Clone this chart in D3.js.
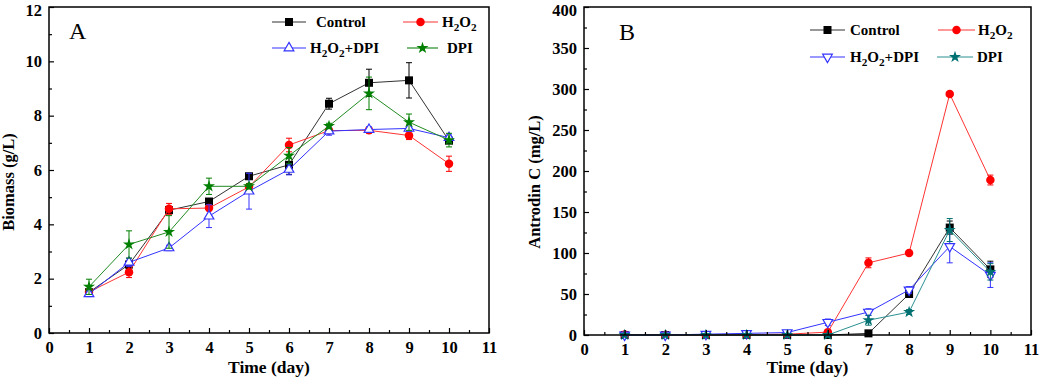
<!DOCTYPE html>
<html><head><meta charset="utf-8">
<script src="https://cdn.jsdelivr.net/npm/d3@7"></script>
<style>body{margin:0;background:#fff}svg{display:block}text{font-family:"Liberation Serif","Times New Roman",serif}</style>
</head><body>
<svg id="c" width="1040" height="382"></svg>
<script>
const days = [1,2,3,4,5,6,7,8,9,10];
const seriesNames = ["Control","H2O2","H2O2+DPI","DPI"];
// Panel A: Biomass (g/L)
const bioControl = [1.50,2.52,4.52,4.84,5.77,6.19,8.44,9.21,9.30,7.08];
const bioControlErr = [0.10,0.15,0.10,0.10,0.10,0.35,0.20,0.50,0.65,0.10];
const bioH2O2 = [1.51,2.24,4.57,4.60,5.38,6.92,7.45,7.46,7.27,6.23];
const bioH2O2Err = [0.10,0.20,0.20,0.10,0.10,0.25,0.10,0.10,0.15,0.28];
const bioH2O2DPI = [1.44,2.60,3.13,4.30,5.22,6.02,7.43,7.49,7.53,7.19];
const bioH2O2DPIErr = [0.10,0.15,0.10,0.42,0.66,0.20,0.15,0.10,0.10,0.10];
const bioDPI = [1.70,3.26,3.72,5.40,5.40,6.53,7.62,8.82,7.76,7.10];
const bioDPIErr = [0.28,0.50,0.60,0.30,0.10,0.30,0.10,0.60,0.30,0.25];
// Panel B: Antrodin C (mg/L)
const antControl = [0,0,0,0,0,0,2,50,131,80];
const antControlErr = [0,0,0,0,0,0,1,3,8,10];
const antH2O2 = [0.5,0,0,0.5,1,3.5,88,100,294,189];
const antH2O2Err = [0,0,0,0,0,1,6,2,3,6];
const antH2O2DPI = [0,0,1,2,3,15.5,28,55,108,73];
const antH2O2DPIErr = [0,0,1,1,1,4,4,4,20,15];
const antDPI = [0,0,0,0,0,0,18,28,128,77];
const antDPIErr = [0,0,0,0,0,0,6,3,14,10];
const xTicks = [0,1,2,3,4,5,6,7,8,9,10,11];
const yTicksA = [0,2,4,6,8,10,12];
const yTicksB = [0,50,100,150,200,250,300,350,400];

const svg = d3.select("#c");

function sub(sel, parts, size){
  let last = false;
  parts.forEach(([t,s])=>{
    const ts = sel.append("tspan").text(t);
    if(s){ ts.attr("dy",4).attr("font-size",size*0.75); }
    else { ts.attr("dy", last ? -4 : 0); }
    last = !!s;
  });
}
function labelParts(name){
  if(name==="H2O2") return [["H",0],["2",1],["O",0],["2",1]];
  if(name==="H2O2+DPI") return [["H",0],["2",1],["O",0],["2",1],["+DPI",0]];
  return [[name,0]];
}

function marker(g, type, color, size){
  if(type==="square"){
    g.append("rect").attr("x",-size/2).attr("y",-size/2).attr("width",size).attr("height",size).attr("fill",color);
  } else if(type==="circle"){
    g.append("circle").attr("r",size/2).attr("fill",color);
  } else if(type==="tri"){
    g.append("path").attr("d",d3.symbol(d3.symbolTriangle, size*size*0.5)()).attr("fill","#fff").attr("stroke",color).attr("stroke-width",1.2);
  } else if(type==="triDown"){
    g.append("path").attr("d",d3.symbol(d3.symbolTriangle, size*size*0.5)()).attr("transform","rotate(180)").attr("fill","#fff").attr("stroke",color).attr("stroke-width",1.2);
  } else if(type==="star"){
    g.append("path").attr("d",d3.symbol(d3.symbolStar, size*size*0.45)()).attr("fill",color);
  }
}

function panel(cfg){
  const x = d3.scaleLinear().domain([0,11]).range(cfg.xr);
  const y = d3.scaleLinear().domain(cfg.yd).range(cfg.yr);
  const g = svg.append("g");
  cfg.series.forEach(s=>{
    const pts = days.map((d,i)=>({x:d,y:s.vals[i],e:s.err[i]}));
    g.append("path").datum(pts)
      .attr("d",d3.line().x(d=>x(d.x)).y(d=>y(d.y)))
      .attr("fill","none").attr("stroke",s.line).attr("stroke-width",1);
    const eb = g.append("g");
    pts.filter(p=>p.e>0).forEach(p=>{
      const cx=x(p.x), y1=y(p.y+p.e), y2=y(Math.max(0,p.y-p.e));
      eb.append("path").attr("d",`M${cx},${y1}V${y2}M${cx-3},${y1}H${cx+3}M${cx-3},${y2}H${cx+3}`)
        .attr("stroke",s.color).attr("stroke-width",1).attr("fill","none");
    });
    pts.forEach(p=>{
      const m = g.append("g").attr("transform",`translate(${x(p.x)},${y(p.y)})`);
      marker(m, s.marker, s.color, s.size);
    });
  });
  const [x0,x1]=cfg.xr, [yb,yt]=cfg.yr;
  g.append("rect").attr("x",x0).attr("y",yt).attr("width",x1-x0).attr("height",yb-yt)
    .attr("fill","none").attr("stroke","#000").attr("stroke-width",1.5);
  const xa = d3.axisBottom(x).tickValues(xTicks).tickSize(-5).tickFormat(d3.format("d")).tickPadding(8);
  g.append("g").attr("transform",`translate(0,${yb})`).call(xa);
  const xm = d3.axisBottom(x).tickValues(d3.range(0.5,11,1)).tickSize(-3).tickFormat("");
  g.append("g").attr("transform",`translate(0,${yb})`).call(xm);
  const ya = d3.axisLeft(y).tickValues(cfg.yTicks).tickSize(-5).tickFormat(d3.format("d")).tickPadding(7);
  const yg = g.append("g").attr("transform",`translate(${x0},0)`).call(ya);
  const ym = d3.axisLeft(y).tickValues(cfg.yMinor).tickSize(-3).tickFormat("");
  g.append("g").attr("transform",`translate(${x0},0)`).call(ym);
  g.selectAll(".domain").remove();
  g.selectAll(".tick line").attr("stroke","#000").attr("stroke-width",1.2);
  g.selectAll(".tick text").attr("font-size",16.5).attr("font-weight","bold").attr("fill","#000")
    .attr("font-family","'Liberation Serif',serif");
  // top y label sits slightly lower so it stays inside the picture
  yg.selectAll(".tick text").filter(d=>d===cfg.yd[1]).attr("dy","0.5em");
  g.append("text").attr("x",(x0+x1)/2).attr("y",373).attr("text-anchor","middle")
    .attr("font-size",17.5).attr("font-weight","bold").text("Time (day)");
  g.append("text").attr("transform",`translate(${cfg.ytx},${cfg.yty}) rotate(-90)`).attr("text-anchor","middle")
    .attr("font-size",16.5).attr("font-weight","bold").text(cfg.ytitle);
  g.append("text").attr("x",cfg.letter[0]).attr("y",cfg.letter[1]).attr("font-size",24).text(cfg.letterText);
  cfg.series.forEach((s,i)=>{
    const L = cfg.legend[i];
    g.append("line").attr("x1",L.x1).attr("x2",L.x2).attr("y1",L.y).attr("y2",L.y).attr("stroke",s.line).attr("stroke-width",1.2);
    const m = g.append("g").attr("transform",`translate(${(L.x1+L.x2)/2},${L.y})`);
    marker(m, s.marker, s.color, s.size);
    const t = g.append("text").attr("x",L.tx).attr("y",L.y+5).attr("font-size",15).attr("font-weight","bold");
    sub(t, labelParts(s.name), 15);
  });
}

panel({
  xr:[49,489], yd:[0,12], yr:[333,7], yTicks:yTicksA, yMinor:[1,3,5,7,9,11],
  ytitle:"Biomass (g/L)", ytx:14, yty:182, letter:[69,39], letterText:"A",
  series:[
    {name:seriesNames[0],vals:bioControl,err:bioControlErr,color:"#000",line:"#333",marker:"square",size:8},
    {name:seriesNames[1],vals:bioH2O2,err:bioH2O2Err,color:"#ff0000",line:"#ff3333",marker:"circle",size:8.5},
    {name:seriesNames[2],vals:bioH2O2DPI,err:bioH2O2DPIErr,color:"#3333ff",line:"#3333ff",marker:"tri",size:9},
    {name:seriesNames[3],vals:bioDPI,err:bioDPIErr,color:"#007f00",line:"#228b22",marker:"star",size:10}
  ],
  legend:[
    {x1:272,x2:306,y:22,tx:316},
    {x1:403,x2:438,y:22,tx:442},
    {x1:272,x2:306,y:48,tx:310},
    {x1:407,x2:438,y:48,tx:447}
  ]
});
panel({
  xr:[584,1031], yd:[0,400], yr:[335,7], yTicks:yTicksB, yMinor:d3.range(25,400,50),
  ytitle:"Antrodin C (mg/L)", ytx:540, yty:182, letter:[619,40], letterText:"B",
  series:[
    {name:seriesNames[0],vals:antControl,err:antControlErr,color:"#000",line:"#333",marker:"square",size:8},
    {name:seriesNames[1],vals:antH2O2,err:antH2O2Err,color:"#ff0000",line:"#ff3333",marker:"circle",size:8.5},
    {name:seriesNames[2],vals:antH2O2DPI,err:antH2O2DPIErr,color:"#3333ff",line:"#3333ff",marker:"triDown",size:9},
    {name:seriesNames[3],vals:antDPI,err:antDPIErr,color:"#007070",line:"#2a9090",marker:"star",size:10}
  ],
  legend:[
    {x1:810,x2:845,y:30,tx:850},
    {x1:938,x2:975,y:30,tx:978},
    {x1:810,x2:845,y:57,tx:850},
    {x1:937,x2:973,y:57,tx:977}
  ]
});
</script>
</body></html>
